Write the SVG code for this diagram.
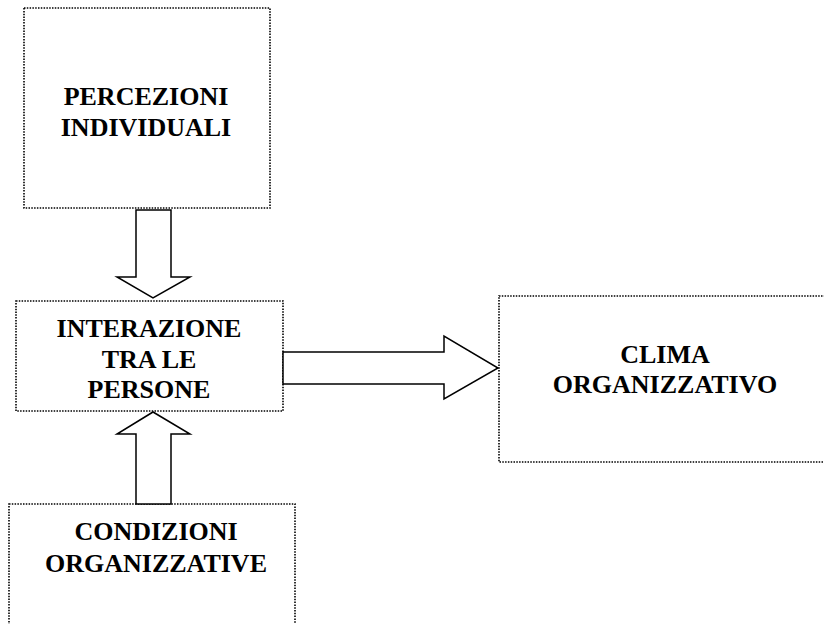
<svg xmlns="http://www.w3.org/2000/svg" width="824" height="624" viewBox="0 0 824 624">
<style>
.box{fill:#fff;stroke:#000;stroke-width:1.6;stroke-dasharray:1.5 1.3}
.arr{fill:#fff;stroke:#000;stroke-width:1.5;stroke-linejoin:miter}
text{font-family:"Liberation Serif","Times New Roman",serif;font-weight:bold;font-size:26px;text-anchor:middle;fill:#000}
</style>
<rect width="824" height="624" fill="#fff"/>
<g id="percezioni">
<rect class="box" x="24" y="8" width="246" height="200"/>
<text x="146" y="105">PERCEZIONI</text>
<text x="146" y="136">INDIVIDUALI</text>
</g>
<g id="interazione">
<rect class="box" x="16" y="301" width="267" height="110"/>
<text x="149" y="337">INTERAZIONE</text>
<text x="149" y="368">TRA LE</text>
<text x="149" y="398">PERSONE</text>
</g>
<g id="condizioni">
<rect class="box" x="9" y="504" width="286" height="140"/>
<text x="156" y="540">CONDIZIONI</text>
<text x="156" y="572">ORGANIZZATIVE</text>
</g>
<g id="clima">
<rect class="box" x="499" y="296" width="345" height="166"/>
<text x="665" y="363">CLIMA</text>
<text x="665" y="393">ORGANIZZATIVO</text>
</g>
<g id="connectors">
<polygon class="arr" points="136,210 171,210 171,277 190,277 153,298 117,277 136,277"/>
<polygon class="arr" points="136,504 171,504 171,434 190,434 153,412 117,434 136,434"/>
<polygon class="arr" points="283,352 444,352 444,336 498,368 444,399 444,384 283,384"/>
</g>
</svg>
